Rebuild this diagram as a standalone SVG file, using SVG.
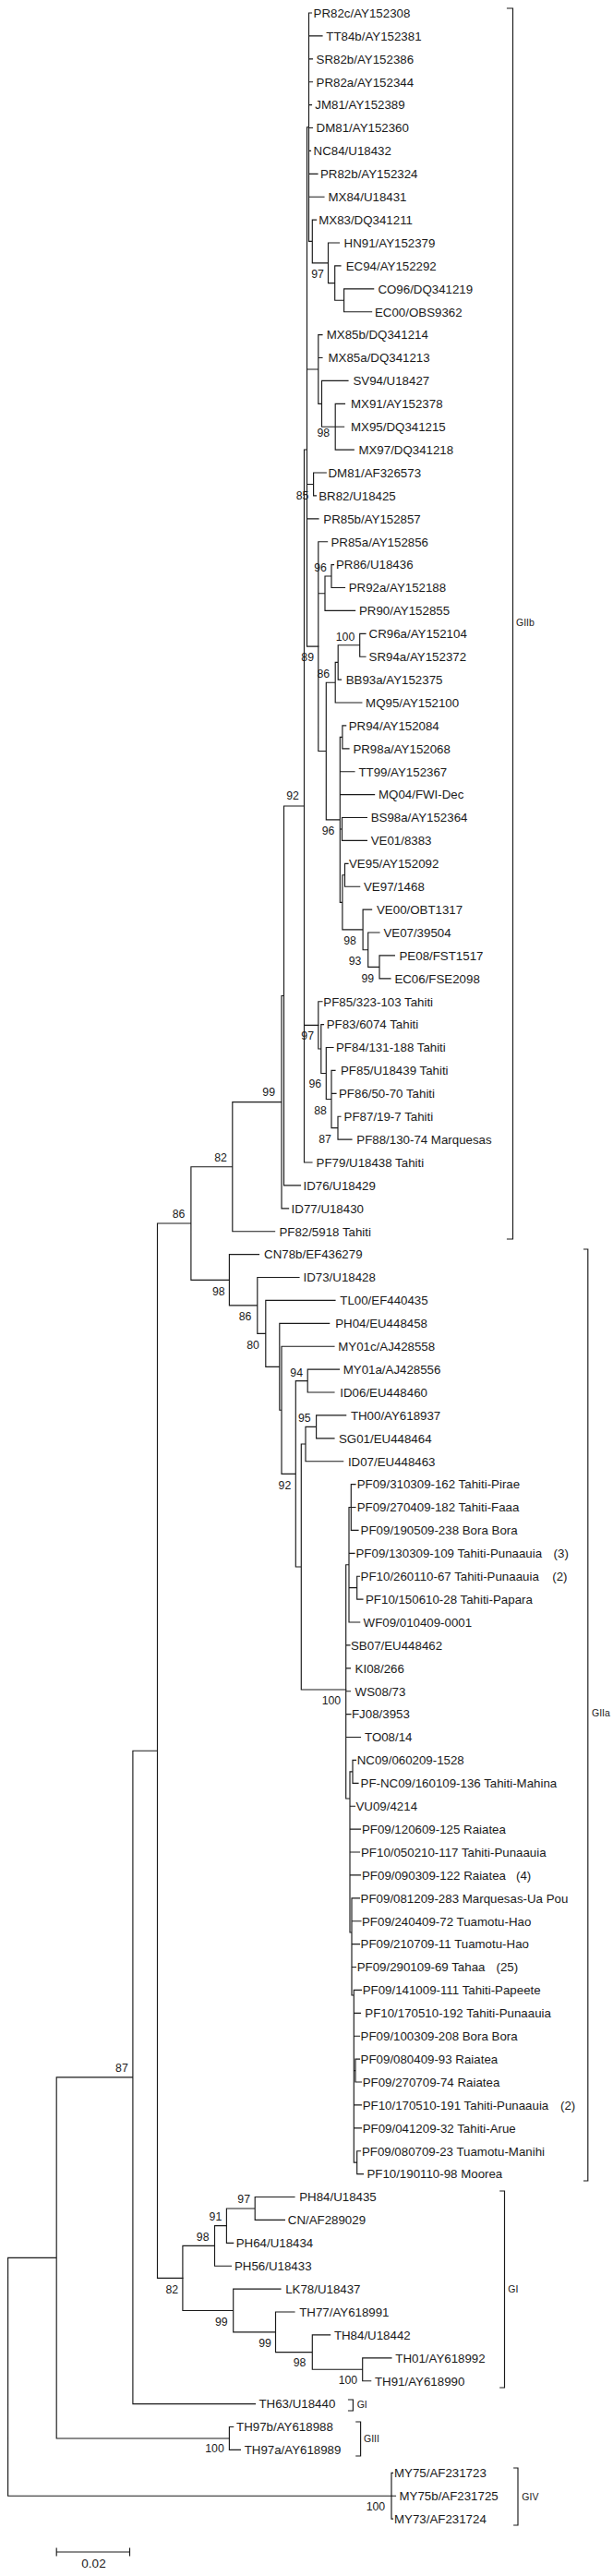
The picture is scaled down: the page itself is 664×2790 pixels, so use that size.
<svg xmlns="http://www.w3.org/2000/svg" width="664" height="2790" viewBox="0 0 664 2790">
<style>
.br{fill:none;stroke:#1a1a1a;stroke-width:1.15;stroke-linecap:square}
.t{font-family:"Liberation Sans",Arial,sans-serif;font-size:13.3px;fill:#1a1a1a}
.b{font-family:"Liberation Sans",Arial,sans-serif;font-size:12.3px;fill:#1a1a1a;text-anchor:middle}
.c{font-family:"Liberation Sans",Arial,sans-serif;font-size:10.5px;fill:#1a1a1a}
.s{font-family:"Liberation Sans",Arial,sans-serif;font-size:13.5px;fill:#1a1a1a;text-anchor:middle}
</style>
<rect width="664" height="2790" fill="#fff"/>
<g id="connectors">
<path class="br" d="M8.6 2445.4V2703.2M8.6 2445.4H61.2M8.6 2703.2H424M61.2 2249.9V2641M61.2 2249.9H143.9M61.2 2641H248.4M143.9 1896.2V2603.6M143.9 1896.2H170.5M143.9 2603.6H276.5M170.5 1325V2467.4M170.5 1325H206.9M170.5 2467.4H197.9M206.9 1263.7V1386.3M206.9 1263.7H251.8M206.9 1386.3H248.4M251.8 1193.6V1333.7M251.8 1193.6H305M251.8 1333.7H297.6M305 1078.5V1308.8M305 1078.5H307.5M305 1308.8H312.6M307.5 873V1283.9M307.5 873H329.5M307.5 1283.9H325.5"/>
<path class="br" d="M329.5 487V1259M329.5 487H332.5M329.5 1110.4H344.8M329.5 1259H338M332.5 137.7V700.1M332.5 137.7H334.5M332.5 400H344.8M332.5 524.5H339.6M332.5 561.8H345M332.5 700.1H344.8M334.5 14V261.4M334.5 14H337.5M334.5 38.9H349M334.5 63.8H338.5M334.5 88.7H338.5M334.5 113.6H337.5M334.5 138.5H338.5M334.5 163.4H336.5M334.5 188.3H344M334.5 213.2H351M334.5 261.4H338.3M338.3 238.1V284.8M338.3 238.1H342.6M338.3 284.8H355.5M355.5 263V306.6M355.5 263H367.5M355.5 306.6H362.7M362.7 287.9V325.25M362.7 287.9H369M362.7 325.25H372.6M372.6 312.8V337.7M372.6 312.8H404.7M372.6 337.7H402.6M344.8 362.6V437.3M344.8 362.6H349M344.8 387.5H349M344.8 437.3H348.5M348.5 412.4V462.2M348.5 412.4H377M348.5 462.2H363.2M363.2 437.3V487.1M363.2 437.3H373.5M363.2 462.2H372.6M363.2 487.1H383.3M339.6 512V536.9M339.6 512H353.3M339.6 536.9H342.5"/>
<path class="br" d="M344.8 586.7V813.5M344.8 586.7H354.6M344.8 642.7H352M344.8 813.5H353.3M352 624V661.4M352 624H359M352 661.4H384.6M359 611.6V636.5M359 611.6H361.5M359 636.5H373.5M353.3 739.2V887.8M353.3 739.2H363.2M353.3 887.8H368.3M363.2 717.4V761M363.2 717.4H366.2M363.2 761H391.9M366.2 698.75V736.1M366.2 698.75H389.7M366.2 736.1H369.5M389.7 686.3V711.2M389.7 686.3H396M389.7 711.2H396M368.3 798.35V977.3M368.3 798.35H370.9M368.3 835.7H384M368.3 860.6H405.6M368.3 897.95H370.5M368.3 977.3H370.9M370.9 785.9V810.8M370.9 785.9H374.7M370.9 810.8H378M370.5 885.5V910.4M370.5 885.5H397.4M370.5 910.4H397.4M370.9 947.75V1006.9M370.9 947.75H373.5M370.9 1006.9H393.1M373.5 935.3V960.2M373.5 935.3H377M373.5 960.2H389.7M393.1 985.1V1028.7M393.1 985.1H402.6M393.1 1028.7H398.7M398.7 1010V1047.35M398.7 1010H411M398.7 1047.35H411M411 1034.9V1059.8M411 1034.9H427.4M411 1059.8H423"/>
<path class="br" d="M344.8 1084.7V1136M344.8 1084.7H349M344.8 1136H347.8M347.8 1109.6V1162.5M347.8 1109.6H350.5M347.8 1162.5H353.3M353.3 1134.5V1190.5M353.3 1134.5H361M353.3 1190.5H359M359 1159.4V1221.65M359 1159.4H363M359 1184.3H364M359 1221.65H366M366 1209.2V1234.1M366 1209.2H369M366 1234.1H381"/>
<path class="br" d="M248.4 1358.6V1413.9M248.4 1358.6H280.5M248.4 1413.9H278.8M278.8 1383.5V1444.3M278.8 1383.5H324M278.8 1444.3H287.8M287.8 1408.4V1480.3M287.8 1408.4H363M287.8 1480.3H302.8M302.8 1433.3V1527.2M302.8 1433.3H356.7M302.8 1527.2H305M305 1458.2V1596.3M305 1458.2H362M305 1596.3H320.3M320.3 1495.55V1697M320.3 1495.55H333.2M320.3 1697H326.3M333.2 1483.1V1508M333.2 1483.1H367.5M333.2 1508H362M326.3 1564V1830M326.3 1564H331M326.3 1830H374.7M331 1545.35V1582.7M331 1545.35H342.6M331 1582.7H371.7M342.6 1532.9V1557.8M342.6 1532.9H374.7M342.6 1557.8H362"/>
<path class="br" d="M374.7 1694.75V1948M374.7 1694.75H378M378 1632.5V1757M378 1632.5H380.3M380.3 1607.6V1657.4M380.3 1607.6H385M380.3 1632.5H385M380.3 1657.4H388M378 1682.3H384M378 1719.65H386.7M386.7 1707.2V1732.1M386.7 1707.2H389.5M386.7 1732.1H393M378 1757H389.7M374.7 1781.9H379M374.7 1806.8H379.5M374.7 1831.7H379.5M374.7 1856.6H380M374.7 1881.5H390.5M374.7 1948H379M379 1918.85V2093M379 1918.85H382M382 1906.4V1931.3M382 1906.4H385.5M382 1931.3H388M379 1956.2H384.5M379 1981.1H390.5M379 2006H389.5M379 2030.9H390.5M379 2093H381M381 2055.8V2161M381 2055.8H389.5M381 2080.7H391M381 2105.6H389.5M381 2130.5H385.5M381 2161H383.3M383.3 2155.4V2342.15M383.3 2155.4H391.5M383.3 2180.3H390.5M383.3 2205.2H389.5M383.3 2242.55H385M385 2230.1V2255M385 2230.1H389.5M385 2255H391.5M383.3 2279.9H391.5M383.3 2304.8H391.5M383.3 2342.15H386.7M386.7 2329.7V2354.6M386.7 2329.7H390.5M386.7 2354.6H393.5"/>
<path class="br" d="M197.9 2432.4V2502.5M197.9 2432.4H232.5M197.9 2502.5H252.7M232.5 2410.6V2454.2M232.5 2410.6H245.4M232.5 2454.2H250.5M245.4 2392V2429.3M245.4 2392H276.2M245.4 2429.3H252.7M276.2 2379.5V2404.4M276.2 2379.5H319M276.2 2404.4H308.4M252.7 2479.1V2525.8M252.7 2479.1H304M252.7 2525.8H298.5M298.5 2504V2547.6M298.5 2504H319M298.5 2547.6H338.3M338.3 2528.9V2566.25M338.3 2528.9H357.6M338.3 2566.25H392.7M392.7 2553.8V2578.7M392.7 2553.8H424M392.7 2578.7H401.7M248.4 2628.5V2653.4M248.4 2628.5H252.7M248.4 2653.4H260.4M424 2678.3V2728.1M424 2678.3H425.5M424 2703.2H428.5M424 2728.1H425.5"/>
</g>
<g id="leaves" class="t">
<g id="n1"><text x="339.6" y="18.8">PR82c/AY152308</text></g>
<g id="n2"><text x="353.3" y="43.7">TT84b/AY152381</text></g>
<g id="n3"><text x="342.6" y="68.6">SR82b/AY152386</text></g>
<g id="n4"><text x="342.6" y="93.5">PR82a/AY152344</text></g>
<g id="n5"><text x="341.3" y="118.4">JM81/AY152389</text></g>
<g id="n6"><text x="342.6" y="143.3">DM81/AY152360</text></g>
<g id="n7"><text x="339.6" y="168.2">NC84/U18432</text></g>
<g id="n8"><text x="347" y="193.1">PR82b/AY152324</text></g>
<g id="n9"><text x="355.5" y="218">MX84/U18431</text></g>
<g id="n10"><text x="345.2" y="242.9">MX83/DQ341211</text></g>
<g id="n11"><text x="372.6" y="267.8">HN91/AY152379</text></g>
<g id="n12"><text x="374.7" y="292.7">EC94/AY152292</text></g>
<g id="n13"><text x="409.4" y="317.6">CO96/DQ341219</text></g>
<g id="n14"><text x="406" y="342.5">EC00/OBS9362</text></g>
<g id="n15"><text x="353.7" y="367.4">MX85b/DQ341214</text></g>
<g id="n16"><text x="355.5" y="392.3">MX85a/DQ341213</text></g>
<g id="n17"><text x="382.4" y="417.2">SV94/U18427</text></g>
<g id="n18"><text x="380" y="442.1">MX91/AY152378</text></g>
<g id="n19"><text x="380" y="467">MX95/DQ341215</text></g>
<g id="n20"><text x="388.4" y="491.9">MX97/DQ341218</text></g>
<g id="n21"><text x="355.5" y="516.8">DM81/AF326573</text></g>
<g id="n22"><text x="345.2" y="541.7">BR82/U18425</text></g>
<g id="n23"><text x="350.3" y="566.6">PR85b/AY152857</text></g>
<g id="n24"><text x="358.5" y="591.5">PR85a/AY152856</text></g>
<g id="n25"><text x="364" y="616.4">PR86/U18436</text></g>
<g id="n26"><text x="377.7" y="641.3">PR92a/AY152188</text></g>
<g id="n27"><text x="389" y="666.2">PR90/AY152855</text></g>
<g id="n28"><text x="399.6" y="691.1">CR96a/AY152104</text></g>
<g id="n29"><text x="399.6" y="716">SR94a/AY152372</text></g>
<g id="n30"><text x="374.7" y="740.9">BB93a/AY152375</text></g>
<g id="n31"><text x="396.1" y="765.8">MQ95/AY152100</text></g>
<g id="n32"><text x="377.7" y="790.7">PR94/AY152084</text></g>
<g id="n33"><text x="382.4" y="815.6">PR98a/AY152068</text></g>
<g id="n34"><text x="388.4" y="840.5">TT99/AY152367</text></g>
<g id="n35"><text x="410" y="865.4">MQ04/FWI-Dec</text></g>
<g id="n36"><text x="401.7" y="890.3">BS98a/AY152364</text></g>
<g id="n37"><text x="401.7" y="915.2">VE01/8383</text></g>
<g id="n38"><text x="378" y="940.1">VE95/AY152092</text></g>
<g id="n39"><text x="394" y="965">VE97/1468</text></g>
<g id="n40"><text x="408" y="989.9">VE00/OBT1317</text></g>
<g id="n41"><text x="415.4" y="1014.8">VE07/39504</text></g>
<g id="n42"><text x="432.5" y="1039.7">PE08/FST1517</text></g>
<g id="n43"><text x="427.4" y="1064.6">EC06/FSE2098</text></g>
<g id="n44"><text x="350.3" y="1089.5">PF85/323-103 Tahiti</text></g>
<g id="n45"><text x="353.7" y="1114.4">PF83/6074 Tahiti</text></g>
<g id="n46"><text x="364" y="1139.3">PF84/131-188 Tahiti</text></g>
<g id="n47"><text x="369" y="1164.2">PF85/U18439 Tahiti</text></g>
<g id="n48"><text x="367" y="1189.1">PF86/50-70 Tahiti</text></g>
<g id="n49"><text x="372.6" y="1214">PF87/19-7 Tahiti</text></g>
<g id="n50"><text x="386.3" y="1238.9">PF88/130-74 Marquesas</text></g>
<g id="n51"><text x="342.6" y="1263.8">PF79/U18438 Tahiti</text></g>
<g id="n52"><text x="328.5" y="1288.7">ID76/U18429</text></g>
<g id="n53"><text x="315.6" y="1313.6">ID77/U18430</text></g>
<g id="n54"><text x="302.4" y="1338.5">PF82/5918 Tahiti</text></g>
<g id="n55"><text x="286.1" y="1363.4">CN78b/EF436279</text></g>
<g id="n56"><text x="328.5" y="1388.3">ID73/U18428</text></g>
<g id="n57"><text x="368.3" y="1413.2">TL00/EF440435</text></g>
<g id="n58"><text x="363.2" y="1438.1">PH04/EU448458</text></g>
<g id="n59"><text x="366.2" y="1463">MY01c/AJ428558</text></g>
<g id="n60"><text x="371.7" y="1487.9">MY01a/AJ428556</text></g>
<g id="n61"><text x="368.3" y="1512.8">ID06/EU448460</text></g>
<g id="n62"><text x="379.9" y="1537.7">TH00/AY618937</text></g>
<g id="n63"><text x="367" y="1562.6">SG01/EU448464</text></g>
<g id="n64"><text x="376.9" y="1587.5">ID07/EU448463</text></g>
<g id="n65"><text x="386.7" y="1612.4">PF09/310309-162 Tahiti-Pirae</text></g>
<g id="n66"><text x="386.7" y="1637.3">PF09/270409-182 Tahiti-Faaa</text></g>
<g id="n67"><text x="390.6" y="1662.2">PF09/190509-238 Bora Bora</text></g>
<g id="n68"><text x="385.5" y="1687.1">PF09/130309-109 Tahiti-Punaauia<tspan x="599.6">(3)</tspan></text></g>
<g id="n69"><text x="390.6" y="1712">PF10/260110-67 Tahiti-Punaauia<tspan x="598.3">(2)</tspan></text></g>
<g id="n70"><text x="396" y="1736.9">PF10/150610-28 Tahiti-Papara</text></g>
<g id="n71"><text x="393.6" y="1761.8">WF09/010409-0001</text></g>
<g id="n72"><text x="380" y="1786.7">SB07/EU448462</text></g>
<g id="n73"><text x="384.6" y="1811.6">KI08/266</text></g>
<g id="n74"><text x="384.6" y="1836.5">WS08/73</text></g>
<g id="n75"><text x="381" y="1861.4">FJ08/3953</text></g>
<g id="n76"><text x="395" y="1886.3">TO08/14</text></g>
<g id="n77"><text x="386.7" y="1911.2">NC09/060209-1528</text></g>
<g id="n78"><text x="390.6" y="1936.1">PF-NC09/160109-136 Tahiti-Mahina</text></g>
<g id="n79"><text x="385.5" y="1961">VU09/4214</text></g>
<g id="n80"><text x="391.9" y="1985.9">PF09/120609-125 Raiatea</text></g>
<g id="n81"><text x="391" y="2010.8">PF10/050210-117 Tahiti-Punaauia</text></g>
<g id="n82"><text x="392" y="2035.7">PF09/090309-122 Raiatea<tspan x="559">(4)</tspan></text></g>
<g id="n83"><text x="390.6" y="2060.6">PF09/081209-283 Marquesas-Ua Pou</text></g>
<g id="n84"><text x="392" y="2085.5">PF09/240409-72 Tuamotu-Hao</text></g>
<g id="n85"><text x="390.6" y="2110.4">PF09/210709-11 Tuamotu-Hao</text></g>
<g id="n86"><text x="386.7" y="2135.3">PF09/290109-69 Tahaa<tspan x="537.5">(25)</tspan></text></g>
<g id="n87"><text x="392.7" y="2160.2">PF09/141009-111 Tahiti-Papeete</text></g>
<g id="n88"><text x="395.3" y="2185.1">PF10/170510-192 Tahiti-Punaauia</text></g>
<g id="n89"><text x="390.6" y="2210">PF09/100309-208 Bora Bora</text></g>
<g id="n90"><text x="390.6" y="2234.9">PF09/080409-93 Raiatea</text></g>
<g id="n91"><text x="392.7" y="2259.8">PF09/270709-74 Raiatea</text></g>
<g id="n92"><text x="392.7" y="2284.7">PF10/170510-191 Tahiti-Punaauia<tspan x="607">(2)</tspan></text></g>
<g id="n93"><text x="392.7" y="2309.6">PF09/041209-32 Tahiti-Arue</text></g>
<g id="n94"><text x="391.9" y="2334.5">PF09/080709-23 Tuamotu-Manihi</text></g>
<g id="n95"><text x="397.4" y="2359.4">PF10/190110-98 Moorea</text></g>
<g id="n96"><text x="324.2" y="2384.3">PH84/U18435</text></g>
<g id="n97"><text x="311.8" y="2409.2">CN/AF289029</text></g>
<g id="n98"><text x="255.7" y="2434.1">PH64/U18434</text></g>
<g id="n99"><text x="254" y="2459">PH56/U18433</text></g>
<g id="n100"><text x="309.2" y="2483.9">LK78/U18437</text></g>
<g id="n101"><text x="324.2" y="2508.8">TH77/AY618991</text></g>
<g id="n102"><text x="361.9" y="2533.7">TH84/U18442</text></g>
<g id="n103"><text x="428.3" y="2558.6">TH01/AY618992</text></g>
<g id="n104"><text x="406" y="2583.5">TH91/AY618990</text></g>
<g id="n105"><text x="280.5" y="2608.4">TH63/U18440</text></g>
<g id="n106"><text x="256.1" y="2633.3">TH97b/AY618988</text></g>
<g id="n107"><text x="264.7" y="2658.2">TH97a/AY618989</text></g>
<g id="n108"><text x="427" y="2683.1">MY75/AF231723</text></g>
<g id="n109"><text x="432.5" y="2708">MY75b/AF231725</text></g>
<g id="n110"><text x="427" y="2732.9">MY73/AF231724</text></g>
</g>
<g id="bootstrap" class="b">
<text x="344" y="301.3">97</text>
<text x="350.3" y="473.3">98</text>
<text x="327.6" y="541.3">85</text>
<text x="347" y="619.3">96</text>
<text x="374" y="694">100</text>
<text x="333.2" y="716.3">89</text>
<text x="350.3" y="733.6">86</text>
<text x="317" y="866">92</text>
<text x="355.5" y="903.6">96</text>
<text x="379" y="1023">98</text>
<text x="384.6" y="1045">93</text>
<text x="398.3" y="1063.6">99</text>
<text x="333.2" y="1126.3">97</text>
<text x="341.3" y="1178.3">96</text>
<text x="347" y="1206.6">88</text>
<text x="352" y="1238">87</text>
<text x="291.2" y="1187">99</text>
<text x="239" y="1258.3">82</text>
<text x="193.6" y="1319.3">86</text>
<text x="236.8" y="1403">98</text>
<text x="265.5" y="1429.6">86</text>
<text x="274" y="1461.3">80</text>
<text x="321.2" y="1490.6">94</text>
<text x="329.8" y="1540.3">95</text>
<text x="308.4" y="1613">92</text>
<text x="358.9" y="1845.6">100</text>
<text x="131.9" y="2244">87</text>
<text x="264.2" y="2386.3">97</text>
<text x="233.4" y="2405.3">91</text>
<text x="219.7" y="2426.6">98</text>
<text x="186.3" y="2483.6">82</text>
<text x="239.8" y="2518.6">99</text>
<text x="287" y="2541.6">99</text>
<text x="324.6" y="2563">98</text>
<text x="376.9" y="2582">100</text>
<text x="232.5" y="2656.3">100</text>
<text x="406.9" y="2718.6">100</text>
</g>
<g id="clades">
<g id="GIIb"><path class="br" d="M549.5 9H555.5V1342H549.5"/><text class="c" x="559" y="678">GIIb</text></g>
<g id="GIIa"><path class="br" d="M632.6 1353H636.8V2362H632.6"/><text class="c" x="641" y="1859">GIIa</text></g>
<g id="GI"><path class="br" d="M541.8 2373H546.5V2586H541.8"/><text class="c" x="550.3" y="2483">GI</text></g>
<g id="GI-TH63"><path class="br" d="M377.5 2599H382.4V2611H377.5"/><text class="c" x="386.7" y="2608">GI</text></g>
<g id="GIII"><path class="br" d="M385.8 2623H390.6V2660H385.8"/><text class="c" x="394" y="2645">GIII</text></g>
<g id="GIV"><path class="br" d="M556.7 2673H561V2735H556.7"/><text class="c" x="565.3" y="2708">GIV</text></g>
</g>
<g id="scalebar">
<path class="br" d="M61.2 2764H140.5M61.2 2760V2768M140.5 2760V2768"/>
<text class="s" x="101.5" y="2781">0.02</text>
</g>
</svg>
